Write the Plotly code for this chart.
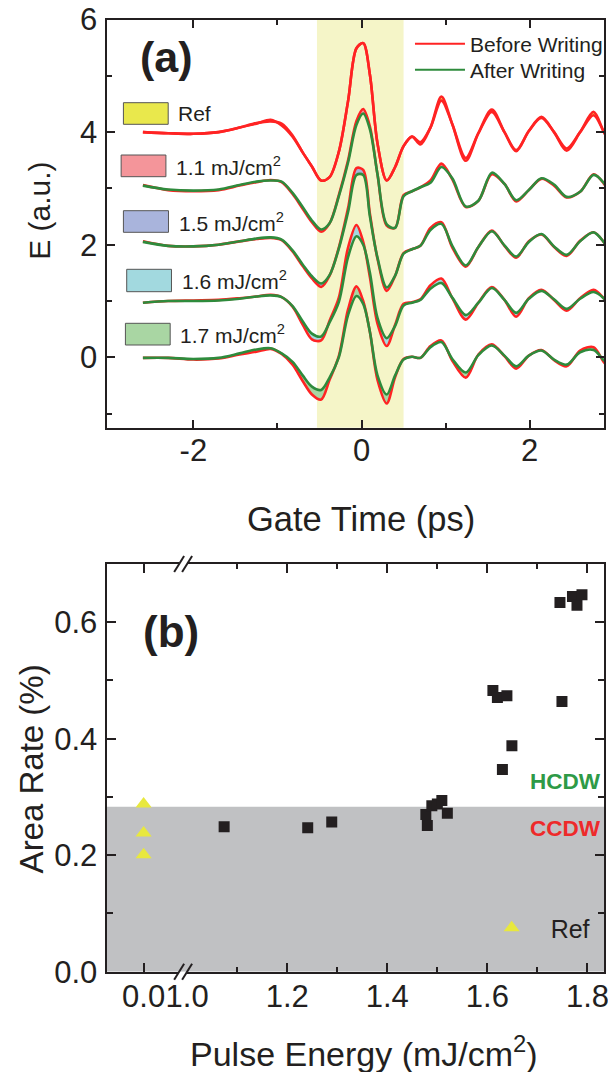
import plotly.graph_objects as go

# The page body adds an 8 px margin and only its content box (600x1064) is
# visible; positions below are given in window pixels.
PAGE_MARGIN = 8
W, H = 616 - 2 * PAGE_MARGIN, 1080 - 2 * PAGE_MARGIN
RIGHT_EDGE = 607          # right frame (window px), last visible column
FONT = "Liberation Sans, Arial, sans-serif"
INK = "#231F20"
RED = "#FF2323"
GREEN = "#2E8B3C"

# ---------------- panel (a) data ----------------
GATE_TIME = [-2.6, -2.3, -2.0, -1.7, -1.45, -1.25, -1.08, -0.95, -0.82, -0.7,
             -0.59, -0.48, -0.38, -0.27, -0.16, -0.06, 0.02, 0.1, 0.19, 0.3,
             0.4, 0.5, 0.6, 0.7, 0.82, 0.95, 1.08, 1.24, 1.39, 1.55,
             1.7, 1.84, 1.99, 2.14, 2.29, 2.44, 2.6, 2.76, 2.88, 2.98]

REF_BEFORE = [0.0, -0.02, -0.03, 0.0, 0.08, 0.15, 0.22, 0.12, -0.08, -0.36,
              -0.61, -0.86, -0.80, -0.35, 0.55, 1.49, 1.58, 1.02, -0.20, -0.86,
              -0.62, -0.25, -0.08, -0.18, 0.08, 0.56, 0.14, -0.46, -0.02, 0.36,
              0.0, -0.32, 0.02, 0.25, 0.0, -0.29, 0.0, 0.30, 0.01, -0.26]
REF_AFTER = [0.0, -0.02, -0.03, 0.0, 0.08, 0.16, 0.19, 0.15, -0.06, -0.36,
             -0.61, -0.86, -0.80, -0.35, 0.55, 1.49, 1.58, 1.02, -0.20, -0.86,
             -0.62, -0.25, -0.08, -0.22, 0.08, 0.63, 0.14, -0.51, -0.02, 0.40,
             0.0, -0.34, 0.02, 0.27, 0.0, -0.33, 0.0, 0.36, 0.01, -0.26]

S11_BEFORE = [0.06, -0.03, -0.05, -0.03, 0.05, 0.11, 0.15, 0.11, -0.10, -0.36,
              -0.60, -0.77, -0.62, -0.12, 0.50, 1.20, 1.41, 1.10, 0.25, -0.66,
              -0.70, -0.12, -0.05, 0.02, 0.14, 0.44, 0.16, -0.33, -0.22, 0.25,
              0.08, -0.23, -0.03, 0.17, 0.05, -0.16, -0.06, 0.25, 0.09, -0.20]
S11_AFTER = [0.05, -0.02, -0.04, -0.02, 0.06, 0.12, 0.14, 0.12, -0.08, -0.33,
             -0.57, -0.73, -0.62, -0.14, 0.46, 1.13, 1.33, 1.05, 0.25, -0.64,
             -0.70, -0.14, -0.05, 0.02, 0.10, 0.38, 0.18, -0.32, -0.22, 0.28,
             0.08, -0.21, -0.03, 0.18, 0.07, -0.15, -0.06, 0.24, 0.10, -0.19]

S15_BEFORE = [0.06, -0.02, -0.03, 0.0, 0.06, 0.10, 0.12, 0.08, -0.12, -0.38,
              -0.60, -0.75, -0.55, -0.05, 0.65, 1.36, 1.33, 0.55, -0.25, -0.82,
              -0.55, -0.15, -0.08, -0.02, 0.30, 0.40, -0.05, -0.39, -0.04, 0.25,
              -0.02, -0.23, 0.06, 0.18, -0.04, -0.20, 0.07, 0.22, 0.05, -0.22]
S15_AFTER = [0.05, -0.02, -0.03, 0.0, 0.06, 0.11, 0.13, 0.09, -0.10, -0.35,
             -0.56, -0.69, -0.54, -0.07, 0.58, 1.24, 1.24, 0.50, -0.23, -0.76,
             -0.55, -0.16, -0.08, -0.02, 0.26, 0.37, -0.02, -0.37, -0.04, 0.24,
             -0.01, -0.21, 0.05, 0.19, -0.03, -0.18, 0.06, 0.22, 0.05, -0.20]

S16_BEFORE = [-0.03, 0.0, 0.01, 0.02, 0.05, 0.08, 0.11, 0.07, -0.10, -0.42,
              -0.68, -0.70, -0.35, 0.06, 0.95, 1.35, 1.05, 0.42, -0.40, -0.80,
              -0.42, -0.05, -0.02, 0.03, 0.28, 0.40, 0.05, -0.33, -0.03, 0.25,
              0.02, -0.28, 0.05, 0.20, 0.02, -0.17, 0.05, 0.20, 0.05, -0.20]
S16_AFTER = [-0.03, 0.0, 0.0, 0.01, 0.04, 0.08, 0.10, 0.07, -0.09, -0.36,
             -0.58, -0.63, -0.38, -0.02, 0.78, 1.15, 1.00, 0.50, -0.30, -0.66,
             -0.44, -0.08, -0.03, 0.02, 0.22, 0.32, 0.06, -0.25, -0.03, 0.23,
             0.02, -0.21, 0.04, 0.18, 0.03, -0.14, 0.04, 0.16, 0.05, -0.15]

S17_BEFORE = [-0.01, -0.01, -0.04, -0.02, 0.05, 0.10, 0.15, 0.06, -0.13, -0.42,
              -0.66, -0.75, -0.40, 0.02, 0.85, 1.26, 1.00, 0.45, -0.40, -0.82,
              -0.35, -0.03, 0.01, -0.01, 0.20, 0.30, -0.06, -0.36, 0.05, 0.23,
              0.02, -0.20, 0.03, 0.13, -0.05, -0.16, 0.12, 0.18, -0.08, -0.24]
S17_AFTER = [-0.01, -0.01, -0.03, -0.01, 0.07, 0.14, 0.16, 0.07, -0.08, -0.32,
             -0.52, -0.58, -0.36, 0.0, 0.75, 1.09, 0.95, 0.45, -0.32, -0.66,
             -0.32, -0.04, 0.01, -0.01, 0.18, 0.27, -0.03, -0.27, 0.04, 0.21,
             0.03, -0.16, 0.03, 0.12, -0.04, -0.13, 0.09, 0.13, -0.05, -0.17]

SAMPLE_LABELS = ["Ref", "1.1 mJ/cm<sup>2</sup>", "1.5 mJ/cm<sup>2</sup>",
                 "1.6 mJ/cm<sup>2</sup>", "1.7 mJ/cm<sup>2</sup>"]
STACK_OFFSETS = [4, 3, 2, 1, 0]
BEFORE = [REF_BEFORE, S11_BEFORE, S15_BEFORE, S16_BEFORE, S17_BEFORE]
AFTER = [REF_AFTER, S11_AFTER, S15_AFTER, S16_AFTER, S17_AFTER]
FILL_COLORS = ["#E9E84C", "#F4959A", "#A9B4DC", "#A2D9DF", "#A9D6A3"]
PUMP_WINDOW = (-0.53, 0.50)

# ---------------- panel (b) data ----------------
REF_ENERGY = [0.0, 0.0, 0.0]
REF_RATE = [0.288, 0.238, 0.201]
PULSE_ENERGY = [1.074, 1.241, 1.289, 1.477, 1.480, 1.489, 1.500, 1.509, 1.520,
                1.611, 1.620, 1.639, 1.630, 1.649, 1.745, 1.749, 1.770, 1.779, 1.789]
AREA_RATE = [0.249, 0.247, 0.257, 0.270, 0.251, 0.285, 0.288, 0.294, 0.272,
             0.483, 0.471, 0.474, 0.347, 0.388, 0.634, 0.464, 0.644, 0.629, 0.647]
CCDW_LIMIT = 0.283

# axis scales (window px per data unit)
A_PX_PER_PS = 84.5
B_PX_PER_MJ = 503.0


def px(x):
    return (x - PAGE_MARGIN) / W


def py(y):
    return 1 - (y - PAGE_MARGIN) / H


fig = go.Figure()

# ---- panel (a) traces ----
for i in range(len(BEFORE)):
    off = STACK_OFFSETS[i]
    yb = [v + off for v in BEFORE[i]]
    ya = [v + off for v in AFTER[i]]
    fig.add_trace(go.Scatter(
        x=GATE_TIME, y=yb, mode="lines", xaxis="x", yaxis="y",
        line=dict(color=RED, width=2.6, shape="spline", smoothing=0.9),
        showlegend=False, hoverinfo="skip"))
    fig.add_trace(go.Scatter(
        x=GATE_TIME, y=ya, mode="lines", xaxis="x", yaxis="y",
        fill="tonexty", fillcolor=FILL_COLORS[i],
        line=dict(color=RED if i == 0 else GREEN, width=2.6,
                  shape="spline", smoothing=0.9),
        showlegend=False, hoverinfo="skip"))

# legend entries for panel (a)
fig.add_trace(go.Scatter(x=[None], y=[None], mode="lines", name="Before Writing",
                         line=dict(color=RED, width=2), xaxis="x", yaxis="y",
                         legend="legend"))
fig.add_trace(go.Scatter(x=[None], y=[None], mode="lines", name="After Writing",
                         line=dict(color=GREEN, width=2), xaxis="x", yaxis="y",
                         legend="legend3"))

# ---- panel (b) traces ----
fig.add_trace(go.Scatter(
    x=REF_ENERGY, y=REF_RATE, mode="markers", name="Ref", xaxis="x2", yaxis="y2",
    marker=dict(symbol="triangle-up", size=14, color="#E8E83E"),
    legend="legend2", hoverinfo="skip"))
fig.add_trace(go.Scatter(
    x=PULSE_ENERGY, y=AREA_RATE, mode="markers", xaxis="x3", yaxis="y3",
    marker=dict(symbol="square", size=11, color=INK),
    showlegend=False, hoverinfo="skip"))

# ---- axes ----
tickfont = dict(family=FONT, size=31, color=INK)
common = dict(showline=True, linecolor=INK, linewidth=2, ticks="inside",
              tickcolor=INK, tickwidth=2, showgrid=False, zeroline=False,
              tickfont=tickfont, automargin=False, ticklabeloverflow="allow")

A_DOM_Y = [py(427.7), py(19.5)]
B_DOM_Y = [py(971.7), py(564)]
a_x0 = -3.033
b_x3_start = 1.0

fig.update_layout(
    template="none",
    xaxis=dict(domain=[px(107), px(RIGHT_EDGE)],
               range=[a_x0, a_x0 + (RIGHT_EDGE - 107) / A_PX_PER_PS], anchor="y",
               mirror="ticks", tickvals=[-2, 0, 2], ticktext=["-2", "0", "2"],
               ticklen=8,
               minor=dict(tickvals=[-1, 1], ticks="inside", ticklen=5,
                          tickcolor=INK, tickwidth=2),
               ticklabelstandoff=-6, **common),
    yaxis=dict(domain=A_DOM_Y, range=[-1.25, 6.0], anchor="x",
               mirror="ticks", tickvals=[0, 2, 4, 6], ticklen=8,
               minor=dict(tickvals=[-1, 1, 3, 5], ticks="inside", ticklen=5,
                          tickcolor=INK, tickwidth=2),
               ticklabelstandoff=1, **common),
    xaxis2=dict(domain=[px(107), px(180)],
                range=[-(144.3 - 107) / B_PX_PER_MJ, (180 - 144.3) / B_PX_PER_MJ],
                anchor="y2", mirror="ticks", tickvals=[0.0], ticktext=["0.0"],
                ticklen=9, ticklabelstandoff=-4, **common),
    xaxis3=dict(domain=[px(188), px(RIGHT_EDGE)],
                range=[b_x3_start, b_x3_start + (RIGHT_EDGE - 188) / B_PX_PER_MJ],
                anchor="y3", mirror="ticks",
                tickvals=[1.0, 1.2, 1.4, 1.6, 1.8],
                ticktext=["1.0", "1.2", "1.4", "1.6", "1.8"], ticklen=9,
                minor=dict(tickvals=[1.1, 1.3, 1.5, 1.7], ticks="inside",
                           ticklen=5, tickcolor=INK, tickwidth=2),
                ticklabelstandoff=-4, **common),
    yaxis2=dict(domain=B_DOM_Y, range=[0, 0.7], anchor="x2", side="left",
                tickvals=[0, 0.2, 0.4, 0.6], ticktext=["0.0", "0.2", "0.4", "0.6"],
                ticklen=9,
                minor=dict(tickvals=[0.1, 0.3, 0.5], ticks="inside", ticklen=6,
                           tickcolor=INK, tickwidth=2),
                ticklabelstandoff=1, **common),
    yaxis3=dict(domain=B_DOM_Y, range=[0, 0.7], anchor="x3", side="right",
                tickvals=[0, 0.2, 0.4, 0.6], showticklabels=False, ticklen=9,
                minor=dict(tickvals=[0.1, 0.3, 0.5], ticks="inside", ticklen=6,
                           tickcolor=INK, tickwidth=2),
                **common),
)

shapes = []
# pump window band (panel a)
shapes.append(dict(type="rect", xref="x", yref="y domain",
                   x0=PUMP_WINDOW[0], x1=PUMP_WINDOW[1], y0=0, y1=1,
                   fillcolor="#F5F5C8", line=dict(width=0), layer="below"))
# CCDW region (panel b)
shapes.append(dict(type="rect", xref="paper", yref="y2",
                   x0=px(107), x1=px(RIGHT_EDGE), y0=0, y1=CCDW_LIMIT,
                   fillcolor="#C0C1C3", line=dict(width=0), layer="below"))
# axis break marks
for cy in (564, 971.7):
    for cx in (180, 188):
        shapes.append(dict(type="line", xref="paper", yref="paper",
                           x0=px(cx - 5), y0=py(cy + 8), x1=px(cx + 5), y1=py(cy - 8),
                           line=dict(color=INK, width=2)))
# sample legend swatches
SWATCH_BOX = [(124, 169, 102.7, 124.3), (121.7, 166.7, 155, 176.7),
              (124, 169.3, 210.7, 232.3), (127.3, 172.3, 269.3, 291.7),
              (126, 171, 323.3, 345)]
SWATCH_TEXT = [(176.7, 113.5), (175, 166), (177.7, 221.5), (181, 280.5), (179.3, 334)]
for (x0, x1, y0, y1), col in zip(SWATCH_BOX, FILL_COLORS):
    shapes.append(dict(type="rect", xref="paper", yref="paper",
                       x0=px(x0), x1=px(x1), y0=py(y1), y1=py(y0),
                       fillcolor=col, line=dict(color="#555555", width=1)))

annotations = []
for (tx, ty), lab in zip(SWATCH_TEXT, SAMPLE_LABELS):
    annotations.append(dict(text=lab, x=px(tx), y=py(ty), xref="paper", yref="paper",
                            xanchor="left", yanchor="middle", showarrow=False,
                            font=dict(family=FONT, size=21, color=INK)))


def label(text, x, y, size, angle=0, color=INK, bold=False):
    t = f"<b>{text}</b>" if bold else text
    annotations.append(dict(text=t, x=px(x), y=py(y), xref="paper", yref="paper",
                            xanchor="center", yanchor="middle", showarrow=False,
                            textangle=angle,
                            font=dict(family=FONT, size=size, color=color)))


label("(a)", 167, 57, 43, bold=True)
label("(b)", 172, 631, 44, bold=True)
label("Gate Time (ps)", 362.5, 519, 34.5)
label("E (a.u.)", 40, 211, 30, angle=-90)
label("Area Rate (%)", 31.5, 769, 33, angle=-90)
label("Pulse Energy (mJ/cm<sup>2</sup>)", 366, 1051, 34)
label("HCDW", 568, 781, 22.5, color="#2E9A47", bold=True)
label("CCDW", 568, 828, 22.5, color="#EE2A2A", bold=True)

legend_common = dict(xanchor="left", yanchor="middle", bgcolor="rgba(0,0,0,0)",
                     borderwidth=0)
fig.update_layout(
    width=W, height=H, margin=dict(l=0, r=0, t=0, b=0, pad=0), autosize=False,
    paper_bgcolor="white", plot_bgcolor="rgba(0,0,0,0)",
    font=dict(family=FONT, color=INK),
    shapes=shapes, annotations=annotations,
    legend=dict(x=px(412), y=py(44), itemwidth=50,
                font=dict(family=FONT, size=21, color=INK), **legend_common),
    legend3=dict(x=px(412), y=py(70), itemwidth=50,
                 font=dict(family=FONT, size=21, color=INK), **legend_common),
    legend2=dict(x=px(475), y=py(928), itemwidth=68,
                 font=dict(family=FONT, size=25, color=INK), **legend_common),
)

fig.write_html("out.html")
